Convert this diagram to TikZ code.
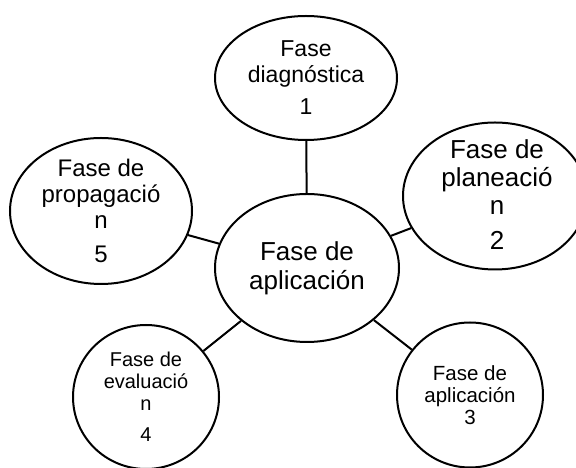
\documentclass[tikz,border=0pt]{standalone}
\usepackage{fontspec}
\setmainfont{Liberation Sans}
\usetikzlibrary{shapes.geometric}

\tikzstyle{phase}=[ellipse,draw=black,line width=2pt,inner sep=0pt]
\tikzstyle{phase_text}=[align=center,inner sep=0pt,text=black]
\tikzstyle{link}=[draw=black,line width=2pt]

\begin{document}
\begin{tikzpicture}[x=1pt,y=1pt]
\useasboundingbox (0,0) rectangle (576,468);

% ellipses
\node [phase,minimum width=184pt,minimum height=148pt] (center) at (307,200) {};
\node [phase,minimum width=182pt,minimum height=124pt] (diag) at (306,390) {};
\node [phase,minimum width=184pt,minimum height=147pt] (plan) at (495,272) {};
\node [phase,minimum width=146pt,minimum height=145pt] (apl) at (470,73) {};
\node [phase,minimum width=146pt,minimum height=144pt] (eval) at (146,71) {};
\node [phase,minimum width=182pt,minimum height=146pt] (prop) at (101,257) {};

% texts
\node [phase_text,font=\fontsize{26}{29}\selectfont] (center_text) at (center) {Fase de\\aplicación};
\node [phase_text,font=\fontsize{23}{26}\selectfont] (diag_text) at (diag) {Fase\\diagnóstica\\[6pt]1};
\node [phase_text,font=\fontsize{26}{28}\selectfont] (plan_text) at (497,273) {Fase de\\planeació\\n\\[7pt]2};
\node [phase_text,font=\fontsize{20.5}{22}\selectfont] (apl_text) at (apl) {Fase de\\aplicación\\3};
\node [phase_text,font=\fontsize{20}{22}\selectfont] (eval_text) at (eval) {Fase de\\evaluació\\n\\[9pt]4};
\node [phase_text,font=\fontsize{24}{26}\selectfont] (prop_text) at (prop) {Fase de\\propagació\\n\\[8pt]5};

% links
\draw[link] (center) -- (diag);
\draw[link] (center) -- (plan);
\draw[link] (center) -- (apl);
\draw[link] (center) -- (eval);
\draw[link] (center) -- (prop);

\end{tikzpicture}
\end{document}
